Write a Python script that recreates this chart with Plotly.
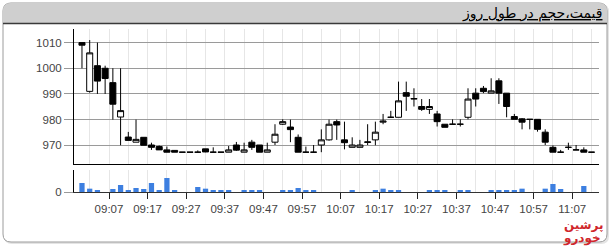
import pandas as pd
import plotly.graph_objects as go

# ---------------- data ----------------
times = pd.date_range("2024-01-06 09:00", periods=67, freq="2min")

opens = [1010, 991, 1001, 1000, 994.4, 981, 973.2, 971.2, 973.1, 970.1,
         969.5, 968.2, 968, 967.3, 967.3, 967.3, 968.6, 967.3, 967.3, 967.3,
         970.1, 967.3, 971.2, 970.1, 967.3, 971.2, 978.2, 977.1, 973.1, 967.3,
         967.3, 970.1, 972.1, 979.2, 972.1, 969.2, 969.2, 971.1, 972.1, 979,
         980.9, 980.9, 990.5, 988, 985.1, 984, 982.2, 978.2, 978.2, 978.2,
         980.9, 990.3, 992.2, 990.3, 995.1, 990.3, 981.2, 980.3, 980.1, 980.1,
         975.1, 969.2, 967.3, 969.2, 968.2, 968.2, 967.3]
highs = [1010, 1011, 1010, 1001, 1000, 1000, 975.2, 980, 973.1, 971,
         969.9, 969.5, 968, 967.3, 967.3, 968, 968.6, 969.2, 967.3, 969.7,
         971.3, 971, 972.1, 970.1, 971, 978.2, 980.1, 980, 974.2, 969.5,
         970.1, 976.2, 980, 980, 979.2, 973.1, 972.1, 978.2, 979.2, 982.2,
         983.4, 994.8, 994.8, 992.2, 988, 988, 983.4, 978.2, 980.1, 980.1,
         992.2, 992.2, 993.1, 996.1, 996.1, 990.3, 982.2, 980.6, 980.1, 980.1,
         976.2, 969.9, 968.2, 971, 970.1, 969.2, 967.3]
lows = [1000, 990.5, 990, 990, 980, 970, 971.9, 971.2, 970, 968.2,
        968.2, 967.3, 967.3, 967.3, 967.3, 967.3, 967.3, 967.3, 967.3, 967.3,
        967.8, 967.3, 968.2, 967.3, 967.3, 970.1, 977.9, 971.2, 967.3, 967.3,
        967.3, 967.3, 971.8, 972.1, 968.4, 969.2, 969.2, 970.1, 970, 978.2,
        980.9, 980.9, 983.4, 985.1, 983.4, 982.2, 977.3, 977, 978.2, 977.3,
        980.1, 985.1, 990.3, 990.3, 986.1, 980.9, 980.1, 976.2, 976.2, 975.3,
        970.1, 967.3, 967.3, 968.2, 968.2, 967.3, 967.3]
closes = [1009, 1006, 995, 996, 986, 983.5, 971.9, 972.3, 970, 969.2,
          968.2, 967.3, 967.3, 967.3, 967.3, 967.3, 967.4, 967.3, 967.3, 968.2,
          968.1, 968.2, 969.2, 967.3, 968.2, 974.3, 979.2, 976.1, 967.3, 967.3,
          967.3, 972.1, 978.2, 977.9, 971, 970.1, 970.1, 971.3, 975.1, 979.4,
          980.9, 987.3, 989.1, 988.2, 984, 985.1, 979.2, 977, 978.2, 978.2,
          988, 988, 990.9, 991.2, 990.3, 985.1, 980.1, 979, 980.1, 976.2,
          971.2, 967.3, 967.3, 969.2, 968.2, 967.3, 967.3]
volumes = [27000, 10000, 4000, 0, 9000, 21000, 6000, 12000, 9000, 27000,
           6000, 42000, 6000, 0, 0, 15000, 10000, 4000, 6000, 4000,
           0, 4000, 6000, 6000, 0, 0, 4000, 6000, 12000, 4000,
           6000, 0, 0, 0, 0, 4000, 0, 0, 4000, 10000,
           4000, 6000, 0, 0, 0, 4000, 4000, 4000, 0, 4000,
           4000, 0, 0, 4000, 4000, 4000, 4000, 10000, 0, 0,
           10000, 24000, 9000, 0, 0, 18000, 0]

price_ticks = [970, 980, 990, 1000, 1010]
title_text = "قیمت،حجم در طول روز"
logo_lines = ["پرشین", "خودرو"]

# ---------------- geometry helpers ----------------
W, H = 613, 247
L, R, T, B = 74, 14, 29, 55
PW, PH = W - L - R, H - T - B


def px(x):
    return (x - L) / PW


def py(y):
    return (H - B - y) / PH


def rounded(x0, y0, x1, y1, r, top_only=False):
    rx, ry = r / PW, r / PH
    X0, X1, Y0, Y1 = px(x0), px(x1), py(y0), py(y1)
    if top_only:
        return (f"M{X0},{Y1} L{X0},{Y0 - ry} Q{X0},{Y0} {X0 + rx},{Y0} "
                f"L{X1 - rx},{Y0} Q{X1},{Y0} {X1},{Y0 - ry} L{X1},{Y1} Z")
    return (f"M{X0 + rx},{Y0} L{X1 - rx},{Y0} Q{X1},{Y0} {X1},{Y0 - ry} "
            f"L{X1},{Y1 + ry} Q{X1},{Y1} {X1 - rx},{Y1} L{X0 + rx},{Y1} "
            f"Q{X0},{Y1} {X0},{Y1 + ry} L{X0},{Y0 - ry} Q{X0},{Y0} {X0 + rx},{Y0} Z")


fig = go.Figure()

fig.add_trace(go.Candlestick(
    x=times, open=opens, high=highs, low=lows, close=closes,
    xaxis="x2", yaxis="y",
    increasing=dict(line=dict(color="black", width=1), fillcolor="white"),
    decreasing=dict(line=dict(color="black", width=1), fillcolor="black"),
    whiskerwidth=0, showlegend=False, hoverinfo="skip",
))
fig.add_trace(go.Bar(
    x=times, y=volumes, xaxis="x", yaxis="y2",
    marker=dict(color="#3d7fe0", line=dict(width=0)),
    showlegend=False, hoverinfo="skip",
))

xr = ["2024-01-06 08:57:56", "2024-01-06 11:13:56"]
gridc = "#e6e6e6"
tickfont = dict(family="Liberation Sans, Arial", size=11.5, color="#444")

fig.update_layout(
    width=W, height=H,
    margin=dict(l=L, r=R, t=T, b=B, pad=0),
    paper_bgcolor="white", plot_bgcolor="rgba(0,0,0,0)",
    bargap=0.32, boxgap=0.22, boxgroupgap=0,
    xaxis=dict(
        type="date", range=xr, anchor="y2", domain=[0, 1],
        tick0="2024-01-06 09:07", dtick=600000, tickformat="%H:%M",
        ticks="outside", ticklen=6, tickcolor="#222", tickwidth=1,
        showline=True, linecolor="#333", linewidth=1,
        showgrid=True, gridcolor=gridc,
        minor=dict(tick0="2024-01-06 09:02", dtick=300000, showgrid=True,
                   gridcolor=gridc, ticks=""),
        tickfont=tickfont, zeroline=False, fixedrange=True,
    ),
    xaxis2=dict(
        type="date", range=xr, anchor="y", domain=[0, 1], matches="x",
        showticklabels=False, ticks="",
        showline=True, linecolor="black", linewidth=1,
        showgrid=True, gridcolor=gridc,
        tick0="2024-01-06 09:02", dtick=300000,
        rangeslider=dict(visible=False), zeroline=False,
    ),
    yaxis=dict(
        domain=[py(164), 1], range=[962.7, 1015.3],
        tickvals=price_ticks, ticks="outside", ticklen=9, tickcolor="#999",
        showline=True, linecolor="black", linewidth=1,
        showgrid=True, gridcolor="#9a9a9a", gridwidth=1,
        tickfont=tickfont, zeroline=False, anchor="x2",
    ),
    yaxis2=dict(
        domain=[0, py(170)], range=[0, 66000],
        tickvals=[0], ticks="outside", ticklen=9, tickcolor="#999",
        showline=True, linecolor="black", linewidth=1,
        showgrid=False, zeroline=False,
        tickfont=tickfont, anchor="x",
    ),
    shapes=[
        dict(type="path", xref="paper", yref="paper", layer="below",
             path=rounded(4, 4, 609, 244, 8),
             fillcolor="#e4e4e4", line=dict(width=0)),
        dict(type="path", xref="paper", yref="paper", layer="below",
             path=rounded(3, 3, 607, 242, 8),
             fillcolor="white", line=dict(color="#9c9c9c", width=1)),
        dict(type="path", xref="paper", yref="paper", layer="below",
             path=rounded(3, 3, 607, 23, 8, top_only=True),
             fillcolor="#cfcfcf", line=dict(width=0)),
        dict(type="line", xref="paper", yref="paper", layer="below",
             x0=px(3), x1=px(607), y0=py(23.5), y1=py(23.5),
             line=dict(color="#3a3a3a", width=1.5)),
    ],
    annotations=[
        dict(text=f"<u>{title_text}</u>", xref="paper", yref="paper",
             x=px(604), y=py(13.5), xanchor="right", yanchor="middle",
             showarrow=False,
             font=dict(family="DejaVu Sans", size=14, color="black")),
        dict(text=f"<b>{logo_lines[0]}</b>", xref="paper", yref="paper",
             x=px(605), y=py(225), xanchor="right", yanchor="middle",
             showarrow=False,
             font=dict(family="DejaVu Sans", size=12, color="#d0262b")),
        dict(text=f"<b>{logo_lines[1]}</b>", xref="paper", yref="paper",
             x=px(603), y=py(238), xanchor="right", yanchor="middle",
             showarrow=False,
             font=dict(family="DejaVu Sans", size=12, color="#d0262b")),
    ],
)

fig.write_html("out.html")
